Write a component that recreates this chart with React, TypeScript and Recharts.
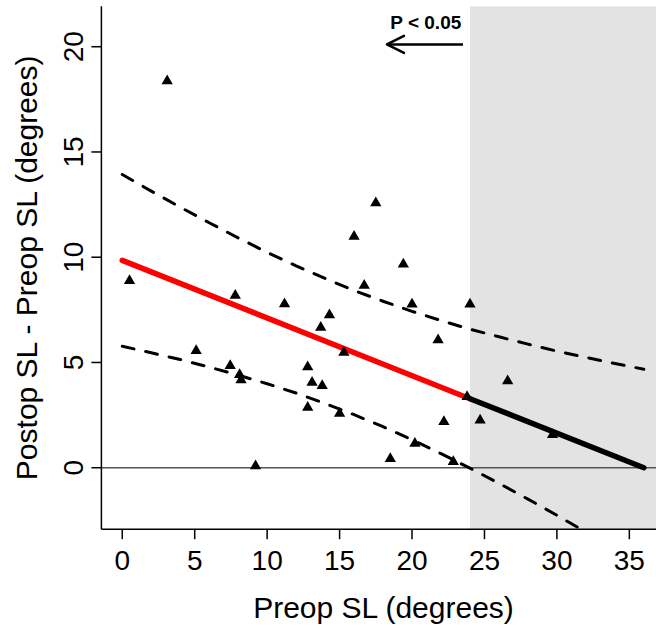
import React from 'react';
import {
  ComposedChart,
  Line,
  Scatter,
  XAxis,
  YAxis,
  ReferenceArea,
  ReferenceLine,
  ReferenceDot,
} from 'recharts';

const FONT = '"Liberation Sans", Arial, Helvetica, sans-serif';

// Observed points: preop SL (x) and postop - preop SL (y)
const preopSL = [
  0.5, 3.1, 5.1, 7.45, 7.8, 8.1, 8.2, 9.2, 11.2, 12.8, 12.8, 13.1, 13.7, 13.8, 14.3, 15.0,
  15.3, 16.0, 16.7, 17.5, 18.5, 19.4, 20.0, 20.2, 21.8, 22.2, 22.85, 23.8, 24.0, 24.7, 26.6, 29.7,
];
const changeSL = [
  8.88, 18.37, 5.56, 4.85, 8.18, 4.42, 4.17, 0.08, 7.78, 4.79, 2.86, 4.05, 6.66, 3.9, 7.26, 2.58,
  5.47, 10.99, 8.66, 12.58, 0.43, 9.67, 7.77, 1.15, 6.07, 2.18, 0.28, 3.37, 7.77, 2.26, 4.12, 1.57,
];

// Fitted regression line (significant part red, rest black)
const fitSigX = [0, 24];
const fitSigY = [9.85, 3.28];
const fitNsX = [24, 36];
const fitNsY = [3.28, 0];

// Confidence band
const ciX = [0, 2, 4, 6, 8, 10, 12, 14, 16, 18, 20, 22, 24, 26, 28, 30, 32, 34, 36];
const ciUpper = [13.93, 13.14, 12.38, 11.64, 10.92, 10.23, 9.59, 8.99, 8.42, 7.91, 7.43, 6.99, 6.58, 6.22, 5.87, 5.54, 5.24, 4.95, 4.68];
const ciLower = [5.77, 5.46, 5.14, 4.78, 4.4, 3.99, 3.55, 3.05, 2.52, 1.95, 1.33, 0.67, -0.02, -0.74, -1.49, -2.26, -3.06, -3.85, -4.68];

const xTicks = [0, 5, 10, 15, 20, 25, 30, 35];
const yTicks = [0, 5, 10, 15, 20];
const X_DOMAIN: [number, number] = [-1.44, 36.84];
const Y_DOMAIN: [number, number] = [-2.92, 21.92];
const threshold = 24;
const pLabel = 'P < 0.05';
const pLabelPos = { x: 23.4, y: 20.84 };
const arrowFrom = { x: 23.52, y: 20.11 };
const arrowTo = { x: 18.27, y: 20.11 };

const xTitle = 'Preop SL (degrees)';
const yTitle = 'Postop SL - Preop SL (degrees)';

const points = preopSL.map((x, i) => ({ x, y: changeSL[i] }));
const fitSig = fitSigX.map((x, i) => ({ x, y: fitSigY[i] }));
const fitNs = fitNsX.map((x, i) => ({ x, y: fitNsY[i] }));
const upper = ciX.map((x, i) => ({ x, y: ciUpper[i] }));
const lower = ciX.map((x, i) => ({ x, y: ciLower[i] }));

const W = 656;
const H = 628;
const MARGIN = { top: 6.3, right: 0, left: 0, bottom: 0 };
const Y_AXIS_W = 101.4;
const X_AXIS_H = 98.8;

const Triangle = (p: any) => {
  const { cx, cy } = p;
  if (cx == null || cy == null) return null;
  const r = 6.5;
  const hw = 5.65;
  const b = 3.25;
  return <path d={`M${cx},${cy - r}L${cx + hw},${cy + b}L${cx - hw},${cy + b}Z`} fill="#000" />;
};

const XTick = (p: any) => {
  const { x, y, payload } = p;
  return (
    <text x={x} y={y + 30.5} textAnchor="middle" fontSize={28} fontFamily={FONT} fill="#000">
      {payload.value}
    </text>
  );
};

const YTick = (p: any) => {
  const { x, y, payload } = p;
  const tx = x - 8;
  return (
    <text
      x={tx}
      y={y}
      transform={`rotate(-90 ${tx} ${y})`}
      textAnchor="middle"
      fontSize={28}
      fontFamily={FONT}
      fill="#000"
    >
      {payload.value}
    </text>
  );
};

const XTitle = () => (
  <text x={383.5} y={618} textAnchor="middle" fontSize={30} fontFamily={FONT} fill="#000">
    {xTitle}
  </text>
);

const YTitle = () => (
  <text
    x={36.7}
    y={267.8}
    transform="rotate(-90 36.7 267.8)"
    textAnchor="middle"
    fontSize={30}
    fontFamily={FONT}
    fill="#000"
  >
    {yTitle}
  </text>
);

const PText = (p: any) => (
  <text x={p.cx} y={p.cy} textAnchor="end" fontSize={19} fontWeight="bold" fontFamily={FONT} fill="#000">
    {pLabel}
  </text>
);

const ArrowHead = (p: any) => {
  const { cx, cy } = p;
  return (
    <path
      d={`M${cx + 17},${cy - 8.5}L${cx},${cy}L${cx + 17},${cy + 8.5}`}
      fill="none"
      stroke="#000"
      strokeWidth={2.5}
      strokeLinecap="round"
      strokeLinejoin="round"
    />
  );
};

export default function App() {
  return (
    <div style={{ position: 'absolute', left: 0, top: 0, width: W, height: H, background: '#fff' }}>
      <ComposedChart width={W} height={H} margin={MARGIN}>
        <ReferenceArea
          x1={threshold}
          x2={X_DOMAIN[1]}
          y1={Y_DOMAIN[0]}
          y2={Y_DOMAIN[1]}
          fill="#e3e3e3"
          fillOpacity={1}
          stroke="none"
          ifOverflow="visible"
        />
        <XAxis
          dataKey="x"
          type="number"
          domain={X_DOMAIN}
          allowDataOverflow
          ticks={xTicks}
          interval={0}
          height={X_AXIS_H}
          tickSize={10}
          tickMargin={0}
          tickLine={{ stroke: '#000', strokeWidth: 1.5 }}
          axisLine={{ stroke: '#000', strokeWidth: 1.5 }}
          tick={<XTick />}
          label={<XTitle />}
        />
        <XAxis
          xAxisId="top"
          orientation="top"
          dataKey="x"
          type="number"
          domain={X_DOMAIN}
          allowDataOverflow
          height={0}
          tick={false}
          tickLine={false}
          axisLine={{ stroke: '#000', strokeWidth: 1.5 }}
        />
        <YAxis
          type="number"
          domain={Y_DOMAIN}
          allowDataOverflow
          ticks={yTicks}
          interval={0}
          width={Y_AXIS_W}
          tickSize={10}
          tickMargin={0}
          tickLine={{ stroke: '#000', strokeWidth: 1.5 }}
          axisLine={{ stroke: '#000', strokeWidth: 1.5 }}
          tick={<YTick />}
          label={<YTitle />}
        />
        <ReferenceLine y={0} stroke="#555" strokeWidth={1.5} />
        <Line
          data={upper}
          dataKey="y"
          type="linear"
          stroke="#000"
          strokeWidth={3}
          strokeDasharray="12 12"
          strokeLinecap="round"
          dot={false}
          activeDot={false}
          isAnimationActive={false}
        />
        <Line
          data={lower}
          dataKey="y"
          type="linear"
          stroke="#000"
          strokeWidth={3}
          strokeDasharray="12 12"
          strokeLinecap="round"
          dot={false}
          activeDot={false}
          isAnimationActive={false}
        />
        <Line
          data={fitSig}
          dataKey="y"
          type="linear"
          stroke="#ff0000"
          strokeWidth={5.5}
          strokeLinecap="round"
          dot={false}
          activeDot={false}
          isAnimationActive={false}
        />
        <Line
          data={fitNs}
          dataKey="y"
          type="linear"
          stroke="#000"
          strokeWidth={5.5}
          strokeLinecap="round"
          dot={false}
          activeDot={false}
          isAnimationActive={false}
        />
        <Scatter data={points} dataKey="y" shape={<Triangle />} isAnimationActive={false} />
        <ReferenceLine
          segment={[arrowFrom, arrowTo]}
          stroke="#000"
          strokeWidth={2.5}
        />
        <ReferenceDot x={arrowTo.x} y={arrowTo.y} r={0} shape={<ArrowHead />} />
        <ReferenceDot x={pLabelPos.x} y={pLabelPos.y} r={0} shape={<PText />} />
      </ComposedChart>
    </div>
  );
}
